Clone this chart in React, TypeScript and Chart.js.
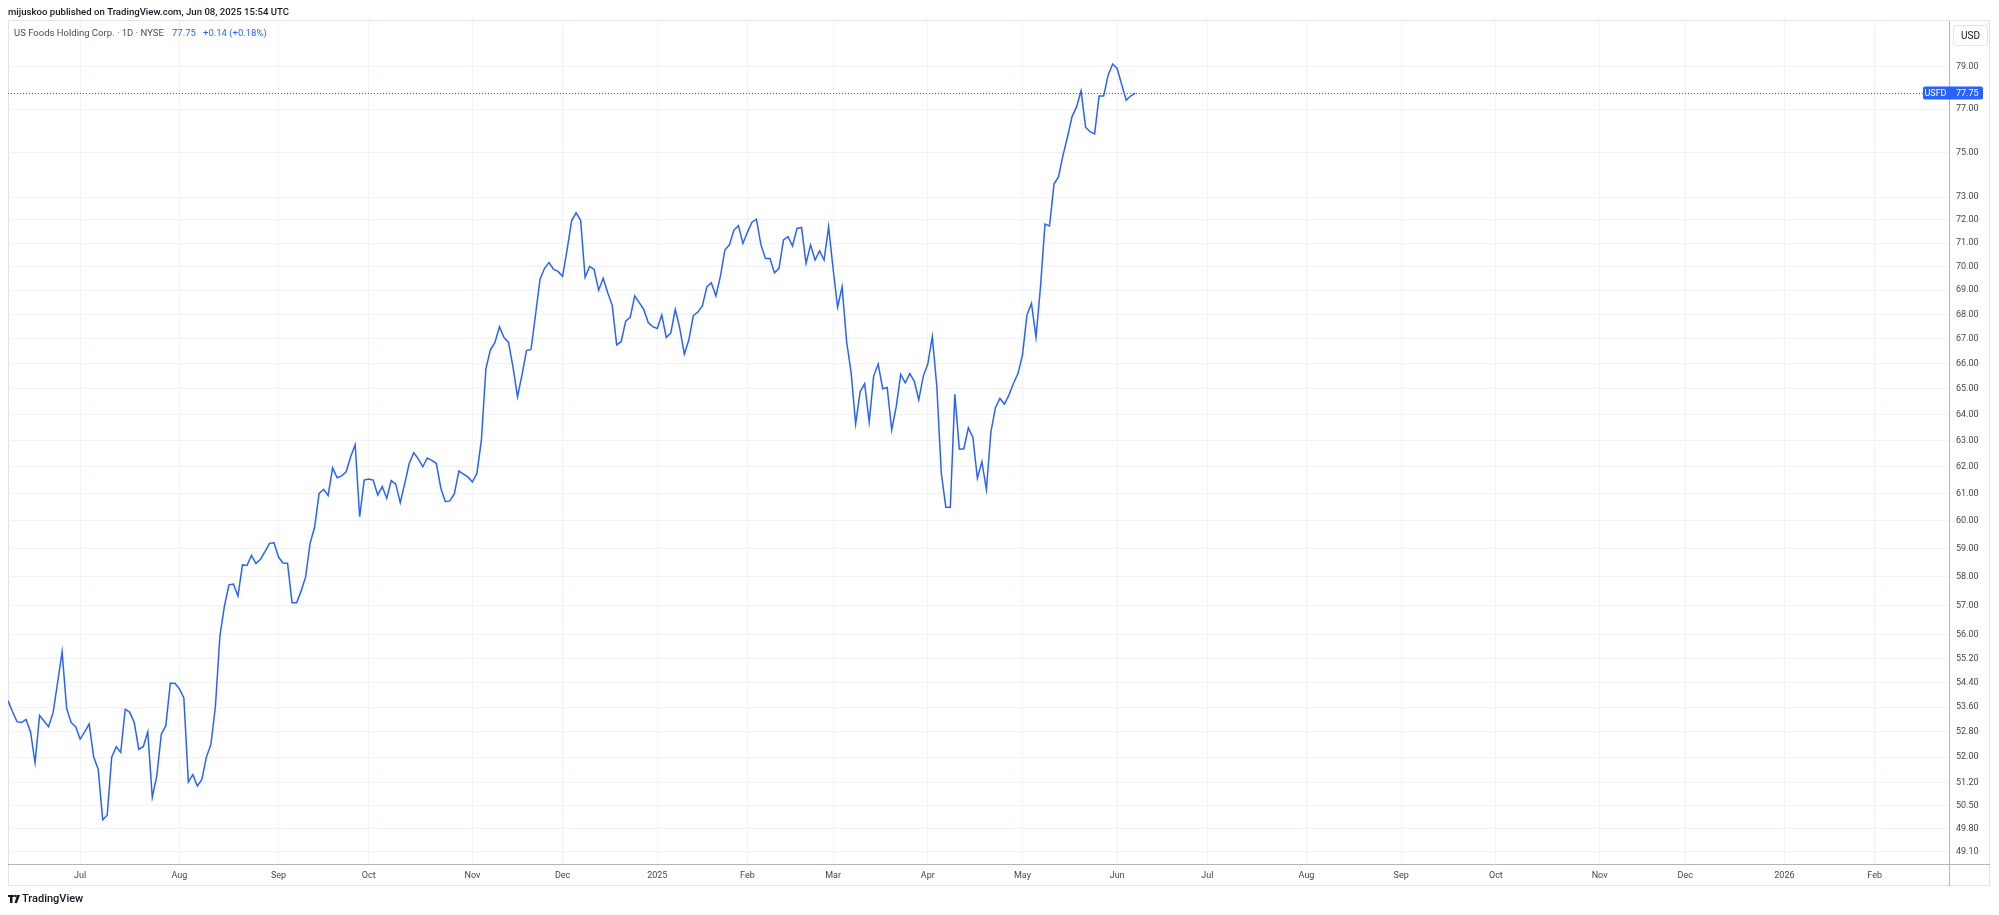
import React, { useEffect, useRef } from 'react';
import { Chart, registerables } from 'chart.js';

Chart.register(...registerables);

// Daily closes, USFD, from Jun 6 2024 (index 0) to Jun 6 2025 (index 250)
const closes: number[] = [
  53.81, 53.45, 53.13, 53.10, 53.20, 52.80, 51.82, 53.33, 53.15, 52.97,
  53.42, 54.40, 55.43, 53.56, 53.10, 52.97, 52.57, 52.80, 53.05, 52.01,
  51.62, 50.06, 50.20, 52.00, 52.33, 52.15, 53.53, 53.43, 53.10, 52.25,
  52.33, 52.80, 50.75, 51.41, 52.73, 53.00, 54.38, 54.38, 54.20, 53.90,
  51.22, 51.45, 51.10, 51.30, 52.00, 52.40, 53.62, 55.96, 56.98, 57.72,
  57.75, 57.33, 58.42, 58.40, 58.76, 58.47, 58.62, 58.89, 59.19, 59.21,
  58.70, 58.49, 58.48, 57.10, 57.10, 57.50, 57.99, 59.19, 59.77, 61.01,
  61.16, 60.93, 61.96, 61.59, 61.66, 61.81, 62.38, 62.83, 60.15, 61.50,
  61.54, 61.50, 60.95, 61.26, 60.83, 61.48, 61.35, 60.67, 61.38, 62.13,
  62.53, 62.30, 62.00, 62.33, 62.24, 62.13, 61.20, 60.70, 60.73, 61.00,
  61.84, 61.72, 61.62, 61.43, 61.75, 63.02, 65.80, 66.55, 66.85, 67.49,
  67.05, 66.86, 65.87, 64.69, 65.55, 66.52, 66.57, 67.97, 69.46, 69.92,
  70.16, 69.87, 69.79, 69.58, 70.70, 71.96, 72.31, 71.99, 69.54, 70.00,
  69.87, 69.00, 69.50, 68.90, 68.38, 66.75, 66.88, 67.72, 67.87, 68.76,
  68.48, 68.20, 67.66, 67.49, 67.42, 67.97, 67.05, 67.23, 68.20, 67.42,
  66.38, 66.95, 67.94, 68.09, 68.34, 69.14, 69.31, 68.76, 69.58, 70.70,
  70.92, 71.56, 71.75, 70.98, 71.46, 71.90, 72.03, 70.92, 70.34, 70.34,
  69.73, 69.92, 71.13, 71.27, 70.87, 71.63, 71.67, 70.13, 70.92, 70.27,
  70.66, 70.27, 71.70, 69.90, 68.29, 69.14, 66.88, 65.64, 63.63, 64.88,
  65.20, 63.70, 65.50, 65.98, 65.00, 65.05, 63.40, 64.30, 65.57, 65.23,
  65.60, 65.30, 64.56, 65.50, 65.98, 67.08, 65.10, 61.76, 60.50, 60.50,
  64.78, 62.66, 62.68, 63.48, 63.12, 61.57, 62.19, 61.15, 63.32, 64.26,
  64.62, 64.40, 64.75, 65.21, 65.60, 66.34, 67.97, 68.45, 67.06, 69.14,
  71.82, 71.74, 73.58, 73.91, 74.88, 75.72, 76.65, 77.10, 77.86, 76.16,
  75.95, 75.85, 77.61, 77.61, 78.60, 79.13, 78.92, 78.16, 77.42, 77.61,
  77.75,
];

// Bar index of the first trading day of each month (including projected future bars)
const monthTickIndex: number[] = [16, 38, 60, 80, 103, 123, 144, 164, 183, 204, 225, 246, 266, 288, 309, 330, 353, 372, 394, 414];
const monthTickLabels: string[] = ['Jul', 'Aug', 'Sep', 'Oct', 'Nov', 'Dec', '2025', 'Feb', 'Mar', 'Apr', 'May', 'Jun', 'Jul', 'Aug', 'Sep', 'Oct', 'Nov', 'Dec', '2026', 'Feb'];

const priceTicks: number[] = [79, 77, 75, 73, 72, 71, 70, 69, 68, 67, 66, 65, 64, 63, 62, 61, 60, 59, 58, 57, 56, 55.2, 54.4, 53.6, 52.8, 52, 51.2, 50.5, 49.8, 49.1];

const priceMin = 48.74;
const priceMax = 81.22;
const barMin = 0;
const barMax = 430.5;

const lastPrice = 77.75;
const symbol = 'USFD';
const currency = 'USD';
const headerText = 'mijuskoo published on TradingView.com, Jun 08, 2025 15:54 UTC';
const legendName = 'US Foods Holding Corp. · 1D · NYSE';
const legendPrice = '77.75';
const legendChange = '+0.14 (+0.18%)';
const logoText = 'TradingView';

const BLUE = '#2962ff';
const GRID = '#f0f3fa';
const AXIS = '#b2b5be';
const TEXT = '#131722';
const FONT = 'Roboto, "Liberation Sans", sans-serif';

function roundRect(ctx: CanvasRenderingContext2D, x: number, y: number, w: number, h: number, r: number) {
  ctx.beginPath();
  ctx.moveTo(x + r, y);
  ctx.lineTo(x + w - r, y);
  ctx.quadraticCurveTo(x + w, y, x + w, y + r);
  ctx.lineTo(x + w, y + h - r);
  ctx.quadraticCurveTo(x + w, y + h, x + w - r, y + h);
  ctx.lineTo(x + r, y + h);
  ctx.quadraticCurveTo(x, y + h, x, y + h - r);
  ctx.lineTo(x, y + r);
  ctx.quadraticCurveTo(x, y, x + r, y);
  ctx.closePath();
}

const overlayPlugin = {
  id: 'tvOverlay',
  beforeDraw(chart: any) {
    const ctx: CanvasRenderingContext2D = chart.ctx;
    ctx.save();
    ctx.fillStyle = '#ffffff';
    ctx.fillRect(0, 0, chart.width, chart.height);
    ctx.strokeStyle = '#e0e3eb';
    ctx.lineWidth = 1;
    ctx.strokeRect(8.5, 20.5, 1981, 865);
    ctx.restore();
  },
  beforeDatasetsDraw(chart: any) {
    const ctx: CanvasRenderingContext2D = chart.ctx;
    const { left, right } = chart.chartArea;
    const y = Math.round(chart.scales.y.getPixelForValue(lastPrice)) + 0.5;
    ctx.save();
    ctx.strokeStyle = BLUE;
    ctx.lineWidth = 1;
    ctx.setLineDash([1, 2]);
    ctx.beginPath();
    ctx.moveTo(left, y);
    ctx.lineTo(right, y);
    ctx.stroke();
    ctx.restore();
  },
  afterDraw(chart: any) {
    const ctx: CanvasRenderingContext2D = chart.ctx;
    const { left, right, top, bottom } = chart.chartArea;
    ctx.save();
    // axis separators
    ctx.strokeStyle = AXIS;
    ctx.lineWidth = 1;
    ctx.beginPath();
    ctx.moveTo(right + 0.5, top);
    ctx.lineTo(right + 0.5, 886);
    ctx.moveTo(left, bottom + 0.5);
    ctx.lineTo(1990, bottom + 0.5);
    ctx.stroke();

    // currency box
    roundRect(ctx, 1953.5, 25.5, 34, 20, 3);
    ctx.fillStyle = '#ffffff';
    ctx.fill();
    ctx.strokeStyle = '#e0e3eb';
    ctx.stroke();
    ctx.fillStyle = TEXT;
    ctx.font = `10px ${FONT}`;
    ctx.textAlign = 'center';
    ctx.textBaseline = 'middle';
    ctx.fillText(currency, 1970.5, 36);

    // last price label
    const py = chart.scales.y.getPixelForValue(lastPrice);
    ctx.fillStyle = BLUE;
    roundRect(ctx, 1923, py - 6.5, 60, 13, 2);
    ctx.fill();
    ctx.fillStyle = '#ffffff';
    ctx.font = `9px ${FONT}`;
    ctx.textAlign = 'center';
    ctx.fillText(symbol, 1935.5, py + 0.5);
    ctx.textAlign = 'left';
    ctx.fillText(legendPrice, 1956, py + 0.5);

    // header
    ctx.fillStyle = TEXT;
    ctx.font = `500 9.6px ${FONT}`;
    ctx.textAlign = 'left';
    ctx.textBaseline = 'middle';
    ctx.fillText(headerText, 8, 12.5);

    // legend
    ctx.font = `9.5px ${FONT}`;
    ctx.fillStyle = '#4a4d57';
    ctx.fillText(legendName, 14, 34);
    ctx.fillStyle = BLUE;
    ctx.fillText(legendPrice, 172, 34);
    ctx.fillText(legendChange, 203, 34);

    // logo
    ctx.fillStyle = TEXT;
    ctx.fillRect(8, 895, 6, 2);
    ctx.fillRect(10, 895, 2.5, 8);
    ctx.beginPath();
    ctx.arc(15.5, 896, 1.2, 0, Math.PI * 2);
    ctx.fill();
    ctx.beginPath();
    ctx.moveTo(17, 895);
    ctx.lineTo(20, 895);
    ctx.lineTo(17, 903);
    ctx.lineTo(14.5, 903);
    ctx.closePath();
    ctx.fill();
    ctx.font = `500 11px ${FONT}`;
    ctx.textBaseline = 'middle';
    ctx.fillText(logoText, 22, 899.5);
    ctx.restore();
  },
};

export default function App() {
  const canvasRef = useRef<HTMLCanvasElement | null>(null);

  useEffect(() => {
    const canvas = canvasRef.current;
    if (!canvas) return;
    const chart = new Chart(canvas, {
      type: 'line',
      data: {
        datasets: [
          {
            label: symbol,
            data: closes.map((c, i) => ({ x: i, y: c })),
            borderColor: BLUE,
            borderWidth: 1.5,
            pointRadius: 0,
            pointHoverRadius: 0,
            tension: 0,
            fill: false,
          },
        ],
      },
      options: {
        animation: false,
        responsive: false,
        devicePixelRatio: 1,
        events: [],
        layout: { padding: { left: 8, top: 21, right: 9, bottom: 29 } },
        plugins: {
          legend: { display: false },
          tooltip: { enabled: false },
          title: { display: false },
        },
        scales: {
          x: {
            type: 'linear',
            min: barMin,
            max: barMax,
            afterBuildTicks: (scale: any) => {
              scale.ticks = monthTickIndex.map((v) => ({ value: v }));
            },
            afterFit: (scale: any) => {
              scale.height = 22;
            },
            ticks: {
              autoSkip: false,
              maxRotation: 0,
              padding: 6,
              color: '#434651',
              font: { family: FONT, size: 9 },
              callback: (_v: any, i: number) => monthTickLabels[i],
            },
            grid: { color: GRID, drawTicks: false, lineWidth: 1 },
            border: { display: false },
          },
          y: {
            type: 'logarithmic',
            position: 'right',
            min: priceMin,
            max: priceMax,
            afterBuildTicks: (scale: any) => {
              scale.ticks = priceTicks.map((v) => ({ value: v }));
            },
            afterFit: (scale: any) => {
              scale.width = 41;
            },
            ticks: {
              autoSkip: false,
              padding: 7,
              color: '#434651',
              font: { family: FONT, size: 9 },
              callback: (v: any) => Number(v).toFixed(2),
            },
            grid: { color: GRID, drawTicks: false, lineWidth: 1 },
            border: { display: false },
          },
        },
      },
      plugins: [overlayPlugin],
    });
    return () => chart.destroy();
  }, []);

  return (
    <canvas
      ref={canvasRef}
      width={1999}
      height={915}
      style={{ position: 'fixed', left: 0, top: 0, width: '1999px', height: '915px', display: 'block' }}
    />
  );
}
